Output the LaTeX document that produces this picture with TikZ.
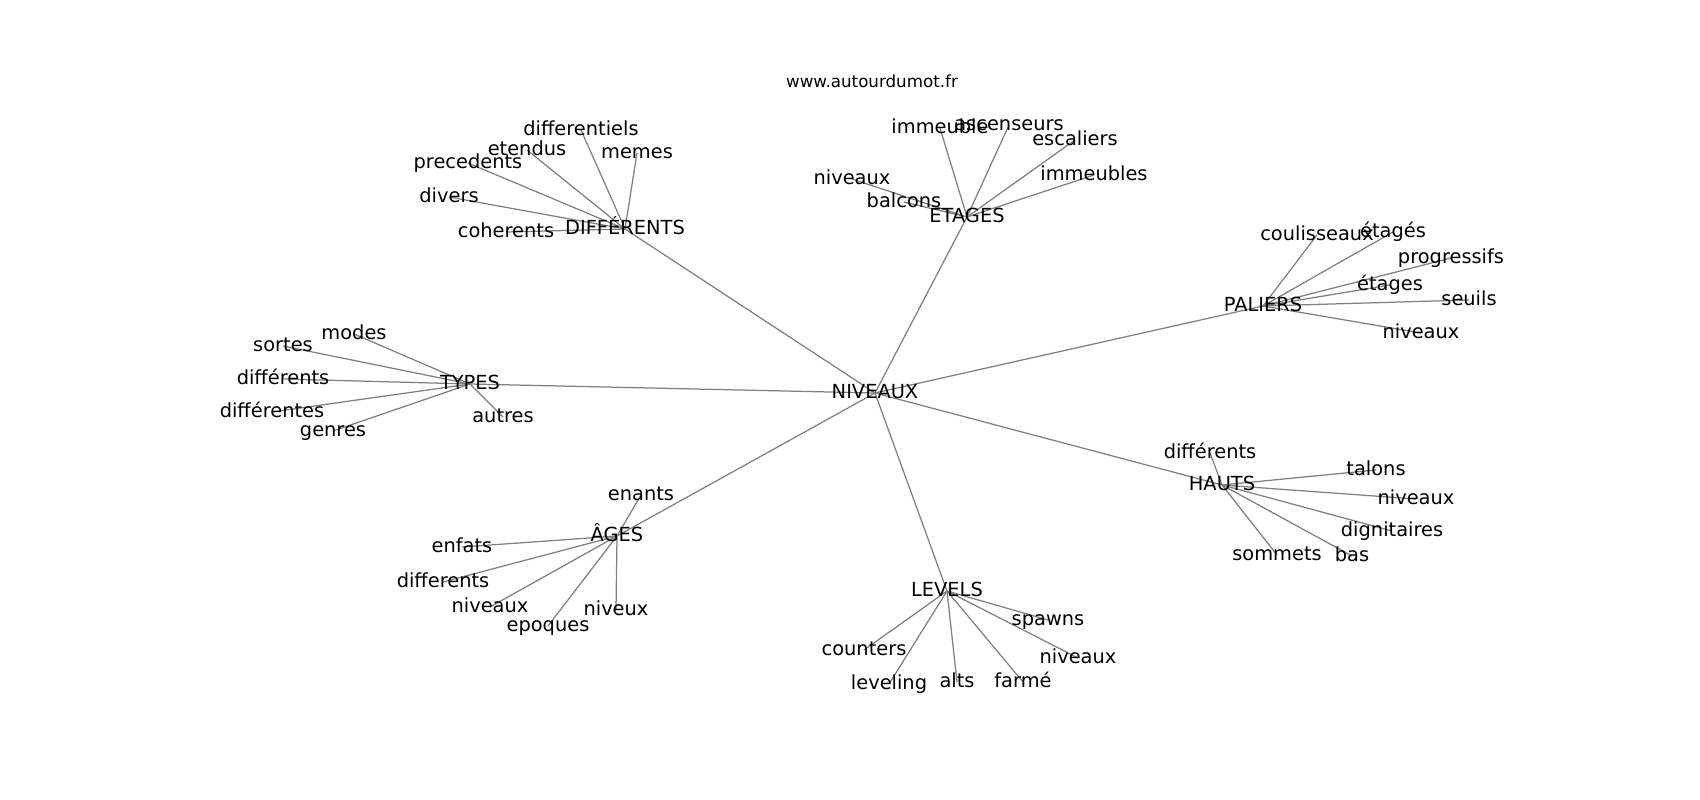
\documentclass[tikz,border=0pt]{standalone}
\usepackage{fontspec}
\setmainfont{DejaVu Sans}
\usetikzlibrary{backgrounds}
\newcommand{\lblfont}{\fontsize{19.4}{23}\selectfont}
\newcommand{\ttlfont}{\fontsize{16.7}{20}\selectfont}
\begin{document}
\begin{tikzpicture}[x=1pt,y=-1pt,
  lbl/.style={font=\lblfont, inner sep=0pt, text height=14.7pt, text depth=4.0pt, text=black},
  edge/.style={draw=gray, line width=1.25pt}]
\useasboundingbox (0,0) rectangle (1700,800);
\node[font=\ttlfont, anchor=base, inner sep=0pt] (title) at (872,88) {www.autourdumot.fr};
% hub
\node[lbl] (niv) at (875,393) {NIVEAUX};
% DIFFERENTS
\node[lbl] (dif) at (625,229) {DIFFÉRENTS};
\node[lbl] (dif1) at (581,130) {differentiels};
\node[lbl] (dif2) at (527,150) {etendus};
\node[lbl] (dif3) at (468,163) {precedents};
\node[lbl] (dif4) at (637,153) {memes};
\node[lbl] (dif5) at (449,197) {divers};
\node[lbl] (dif6) at (506,232) {coherents};
% ETAGES
\node[lbl] (eta) at (967,217) {ETAGES};
\node[lbl] (eta1) at (940,128) {immeuble};
\node[lbl] (eta2) at (1009,125) {ascenseurs};
\node[lbl] (eta3) at (1075,140) {escaliers};
\node[lbl] (eta4) at (1094,175) {immeubles};
\node[lbl] (eta5) at (852,179) {niveaux};
\node[lbl] (eta6) at (904,202) {balcons};
% PALIERS
\node[lbl] (pal) at (1263,306) {PALIERS};
\node[lbl] (pal1) at (1317,235) {coulisseaux};
\node[lbl] (pal2) at (1393,232) {étagés};
\node[lbl] (pal3) at (1451,258) {progressifs};
\node[lbl] (pal4) at (1390,285) {étages};
\node[lbl] (pal5) at (1469,300) {seuils};
\node[lbl] (pal6) at (1421,333) {niveaux};
% TYPES
\node[lbl] (typ) at (470,384) {TYPES};
\node[lbl] (typ1) at (354,334) {modes};
\node[lbl] (typ2) at (283,346) {sortes};
\node[lbl] (typ3) at (283,379) {différents};
\node[lbl] (typ4) at (272,412) {différentes};
\node[lbl] (typ5) at (333,431) {genres};
\node[lbl] (typ6) at (503,417) {autres};
% AGES
\node[lbl] (age) at (617,536) {ÂGES};
\node[lbl] (age1) at (641,495) {enants};
\node[lbl] (age2) at (462,547) {enfats};
\node[lbl] (age3) at (443,582) {differents};
\node[lbl] (age4) at (490,607) {niveaux};
\node[lbl] (age5) at (548,626) {epoques};
\node[lbl] (age6) at (616,610) {niveux};
% LEVELS
\node[lbl] (lev) at (947,591) {LEVELS};
\node[lbl] (lev1) at (1048,620) {spawns};
\node[lbl] (lev2) at (1078,658) {niveaux};
\node[lbl] (lev3) at (864,650) {counters};
\node[lbl] (lev4) at (889,684) {leveling};
\node[lbl] (lev5) at (957,682) {alts};
\node[lbl] (lev6) at (1023,682) {farmé};
% HAUTS
\node[lbl] (hau) at (1222,485) {HAUTS};
\node[lbl] (hau1) at (1210,453) {différents};
\node[lbl] (hau2) at (1376,470) {talons};
\node[lbl] (hau3) at (1416,499) {niveaux};
\node[lbl] (hau4) at (1392,531) {dignitaires};
\node[lbl] (hau5) at (1277,555) {sommets};
\node[lbl] (hau6) at (1352,556) {bas};
\begin{pgfonlayer}{background}
\fill[white] (0,0) rectangle (1700,800);
\foreach \h in {dif,eta,pal,typ,age,lev,hau}{
  \path[edge] (niv.center) -- (\h.center);
  \foreach \i in {1,...,6}{
    \path[edge] (\h.center) -- (\h\i.center);
  }
}
\end{pgfonlayer}
\end{tikzpicture}
\end{document}
